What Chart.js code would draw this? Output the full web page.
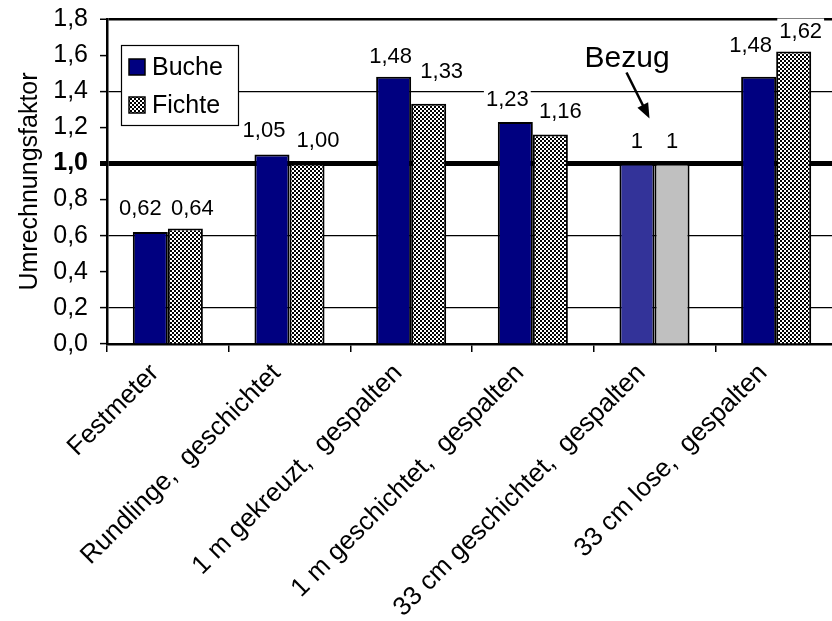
<!DOCTYPE html>
<html><head><meta charset="utf-8">
<script src="https://cdn.jsdelivr.net/npm/chart.js@4"></script>
<style>html,body{margin:0;padding:0;background:#fff;overflow:hidden;width:832px;height:621px}canvas{display:block}</style>
</head><body>
<canvas id="c" width="837" height="621"></canvas>
<script>
// ---- data ----
const categories = ['Festmeter', 'Rundlinge,  geschichtet', '1 m gekreuzt,  gespalten', '1 m geschichtet,  gespalten', '33 cm geschichtet,  gespalten', '33 cm lose,  gespalten'];
const seriesNames = ['Buche', 'Fichte'];
const bucheValues = [0.62, 1.05, 1.48, 1.23, 1, 1.48];
const fichteValues = [0.64, 1.00, 1.33, 1.16, 1, 1.62];
const yMin = 0, yMax = 1.8, yStep = 0.2;
const yTitle = 'Umrechnungsfaktor';
const referenceIndex = 4;
const referenceText = 'Bezug';

// label placement tweaks [dx, gap above bar top]
const labelOffsets = [
  [[-10, 17], [-8, 17], [-3, 14], [-8, 16], [0, 15], [-8, 25]],
  [[7, 13], [11, 16], [13, 26], [10, 17], [0, 15], [7, 14]]
];

const FONT = '"Liberation Sans", Arial, sans-serif';
Chart.defaults.font.family = FONT;
Chart.defaults.color = '#000';

const canvas = document.getElementById('c');
const ctx0 = canvas.getContext('2d');
function checkerPattern() {
  const c = document.createElement('canvas'); c.width = 4; c.height = 4;
  const x = c.getContext('2d');
  x.fillStyle = '#fff'; x.fillRect(0, 0, 4, 4);
  x.fillStyle = '#000'; x.fillRect(0, 0, 2, 2); x.fillRect(2, 2, 2, 2);
  return ctx0.createPattern(c, 'repeat');
}
const checker = checkerPattern();
const bucheColors = categories.map((_, i) => i === referenceIndex ? '#333399' : '#000080');
const fichteColors = categories.map((_, i) => i === referenceIndex ? '#C0C0C0' : checker);

function fmt(v, i) { return i === referenceIndex ? String(v) : v.toFixed(2).replace('.', ','); }

const valueLabels = {
  id: 'valueLabels',
  afterDatasetsDraw(chart) {
    const ctx = chart.ctx; ctx.save();
    ctx.font = '22px ' + FONT; ctx.textAlign = 'center'; ctx.textBaseline = 'alphabetic';
    chart.data.datasets.forEach((ds, di) => {
      chart.getDatasetMeta(di).data.forEach((bar, i) => {
        const t = fmt(ds.data[i], i);
        const x = bar.x + labelOffsets[di][i][0];
        const y = bar.y - labelOffsets[di][i][1];
        const w = ctx.measureText(t).width;
        ctx.fillStyle = '#fff'; ctx.fillRect(x - w / 2 - 2, y - 19, w + 4, 23);
        ctx.fillStyle = '#000'; ctx.fillText(t, x, y);
      });
    });
    ctx.restore();
  }
};

const legendBox = {
  id: 'legendBox',
  afterDraw(chart) {
    const ctx = chart.ctx, a = chart.chartArea;
    const bx = a.left + 14, by = a.top + 26, bw = 117, bh = 80;
    ctx.save();
    ctx.fillStyle = '#fff'; ctx.fillRect(bx, by, bw, bh);
    ctx.strokeStyle = '#000'; ctx.lineWidth = 1.2; ctx.strokeRect(bx + 0.5, by + 0.5, bw, bh);
    ctx.font = '25px ' + FONT; ctx.textBaseline = 'middle'; ctx.textAlign = 'left';
    const fills = ['#000080', checker];
    chart.data.datasets.forEach((ds, i) => {
      const cy = by + 22 + i * 38;
      ctx.fillStyle = fills[i]; ctx.fillRect(bx + 8, cy - 8, 16, 16);
      ctx.strokeStyle = '#000'; ctx.lineWidth = 1.5; ctx.strokeRect(bx + 8, cy - 8, 16, 16);
      ctx.fillStyle = '#000'; ctx.fillText(ds.label, bx + 31, cy + 1);
    });
    ctx.restore();
  }
};

const bezug = {
  id: 'bezug',
  afterDraw(chart) {
    const ctx = chart.ctx, xs = chart.scales.x, ys = chart.scales.y;
    const cx = xs.getPixelForValue(referenceIndex), y1 = ys.getPixelForValue(1);
    ctx.save();
    ctx.font = '30px ' + FONT; ctx.fillStyle = '#000'; ctx.textAlign = 'left'; ctx.textBaseline = 'alphabetic';
    ctx.fillText(referenceText, cx - 70, y1 - 96);
    const x0 = cx - 28, yA = y1 - 91, x1 = cx - 5, yB = y1 - 45;
    const ang = Math.atan2(yB - yA, x1 - x0);
    ctx.strokeStyle = '#000'; ctx.lineWidth = 2.5;
    ctx.beginPath(); ctx.moveTo(x0, yA); ctx.lineTo(x1 - 10 * Math.cos(ang), yB - 10 * Math.sin(ang)); ctx.stroke();
    ctx.beginPath();
    ctx.moveTo(x1, yB);
    ctx.lineTo(x1 - 15 * Math.cos(ang) + 6 * Math.sin(ang), yB - 15 * Math.sin(ang) - 6 * Math.cos(ang));
    ctx.lineTo(x1 - 15 * Math.cos(ang) - 6 * Math.sin(ang), yB - 15 * Math.sin(ang) + 6 * Math.cos(ang));
    ctx.closePath(); ctx.fill();
    ctx.restore();
  }
};

const tv = c => (c && c.tick) ? c.tick.value : NaN;
const isOne = c => Math.abs(tv(c) - 1) < 1e-6;
const isTop = c => Math.abs(tv(c) - yMax) < 1e-6;

new Chart(canvas, {
  type: 'bar',
  data: {
    labels: categories,
    datasets: [
      { label: seriesNames[0], data: bucheValues, backgroundColor: bucheColors, borderColor: '#000', borderWidth: 2, borderSkipped: 'bottom' },
      { label: seriesNames[1], data: fichteValues, backgroundColor: fichteColors, borderColor: '#000', borderWidth: 2, borderSkipped: 'bottom' }
    ]
  },
  options: {
    responsive: false, animation: false,
    layout: { padding: { top: 19, left: 0, right: 0, bottom: 0 } },
    datasets: { bar: { categoryPercentage: 0.576, barPercentage: 1 } },
    plugins: { legend: { display: false }, tooltip: { enabled: false } },
    scales: {
      x: {
        grid: { drawOnChartArea: false, drawTicks: true, tickLength: 8, color: '#000', lineWidth: 1.5 },
        border: { color: '#000', width: 2.5 },
        ticks: { maxRotation: 45, minRotation: 45, autoSkip: false, color: '#000', font: { size: 26 }, padding: 6, labelOffset: -13 },
        afterFit: s => { s.height = 621 - 344; }
      },
      y: {
        min: yMin, max: yMax,
        ticks: {
          stepSize: yStep, color: '#000', padding: 12,
          font: c => ({ size: 25, weight: isOne(c) ? 'bold' : 'normal' }),
          callback: v => v.toFixed(1).replace('.', ',')
        },
        grid: {
          drawTicks: true, tickLength: 7,
          color: c => (c && c.index % 2 === 1) ? '#000' : 'rgba(0,0,0,0)',
          lineWidth: c => isOne(c) ? 5 : (isTop(c) ? 2.5 : 1.2),
          tickColor: '#000',
          tickWidth: c => isOne(c) ? 5 : 1.5
        },
        border: { color: '#000', width: 2.5 },
        title: { display: true, text: yTitle, color: '#000', font: { size: 25 }, padding: { top: 15, bottom: 0 } },
        afterFit: s => { s.width = 107; s.paddingTop = 0; s.paddingBottom = 0; }
      }
    }
  },
  plugins: [valueLabels, legendBox, bezug]
});
</script>
</body></html>
